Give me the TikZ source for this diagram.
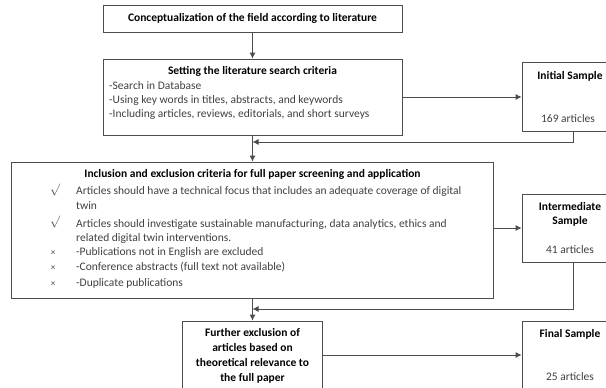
\documentclass[tikz,border=0pt]{standalone}
\usepackage{fontspec}
\setmainfont{Carlito}
\usetikzlibrary{arrows.meta}
\begin{document}
\begin{tikzpicture}[x=1pt,y=-1pt,
  box/.style={draw=black!70,line width=0.8pt,inner sep=0pt},
  hd/.style={font=\bfseries\fontsize{11.5}{13}\selectfont,inner sep=0pt,text height=8pt,text depth=2.5pt},
  txt/.style={font=\fontsize{11.5}{13}\selectfont,text=black!75,inner sep=0pt,text height=8pt,text depth=2.5pt},
  arr/.style={draw=black!70,line width=0.8pt,-{Latex[length=6pt,width=6pt]}}]
\useasboundingbox (0,0) rectangle (606,388);
\clip (0,0) rectangle (606,388);

\node[box,minimum width=299pt,minimum height=27pt] (concept) at (252.5,18.5) {};
\node[hd] (concepthd) at (252.5,19) {Conceptualization of the field according to literature};

\node[box,minimum width=299pt,minimum height=76pt] (search) at (252.5,97) {};
\node[hd] (searchhd) at (252.5,72) {Setting the literature search criteria};
\node[txt,anchor=west] (s1) at (109,87) {-Search in Database};
\node[txt,anchor=west] (s2) at (109,101) {-Using key words in titles, abstracts, and keywords};
\node[txt,anchor=west] (s3) at (109,115) {-Including articles, reviews, editorials, and short surveys};

\node[box,minimum width=102pt,minimum height=69pt] (initial) at (573,96.5) {};
\node[hd] (initialhd) at (570,77) {Initial Sample};
\node[txt] (initialn) at (568,120) {169 articles};

\node[box,minimum width=482pt,minimum height=136pt] (crit) at (252.5,230) {};
\node[hd] (crithd) at (252.5,175) {Inclusion and exclusion criteria for full paper screening and application};
\node[txt] (tick1) at (55,190) {$\surd$};
\node[txt] (tick2) at (55,222) {$\surd$};
\node[txt,anchor=west] (c1) at (76,192) {Articles should have a technical focus that includes an adequate coverage of digital};
\node[txt,anchor=west] (c2) at (76,207) {twin};
\node[txt,anchor=west] (c3) at (76,225) {Articles should investigate sustainable manufacturing, data analytics, ethics and};
\node[txt,anchor=west] (c4) at (76,239) {related digital twin interventions.};
\foreach \y/\t in {253/-Publications not in English are excluded,268/-Conference abstracts (full text not available),284/-Duplicate publications}{
  \node[txt] (x\y) at (53,\y) {\small ×};
  \node[txt,anchor=west] (e\y) at (76,\y) {\t};}

\node[box,minimum width=102pt,minimum height=68pt] (inter) at (573,228) {};
\node[hd] (interhd1) at (570,208) {Intermediate};
\node[hd] (interhd2) at (570,222) {Sample};
\node[txt] (intern) at (570,251) {41 articles};

\node[box,minimum width=140pt,minimum height=74pt] (further) at (252.5,358) {};
\node[hd,align=center,font=\bfseries\fontsize{11.5}{15}\selectfont,text height=,text depth=] (furtherhd) at (252.5,356) {Further exclusion of\\articles based on\\theoretical relevance to\\the full paper};

\node[box,minimum width=102pt,minimum height=68pt] (final) at (573,355) {};
\node[hd] (finalhd) at (570,335) {Final Sample};
\node[txt] (finaln) at (570,378) {25 articles};

\coordinate (j1) at (252.5,142);
\coordinate (j2) at (252.5,309);
\draw[arr] (concept) -- (search);
\draw[arr] (search.east) -- (search.east -| initial.west);
\draw[arr] (initial.south) |- (j1);
\draw[arr] (search) -- (crit);
\draw[arr] (inter.west -| crit.east) -- (inter.west);
\draw[arr] (inter.south) |- (j2);
\draw[arr] (crit) -- (further);
\draw[arr] (final.west -| further.east) -- (final.west);
\end{tikzpicture}
\end{document}
